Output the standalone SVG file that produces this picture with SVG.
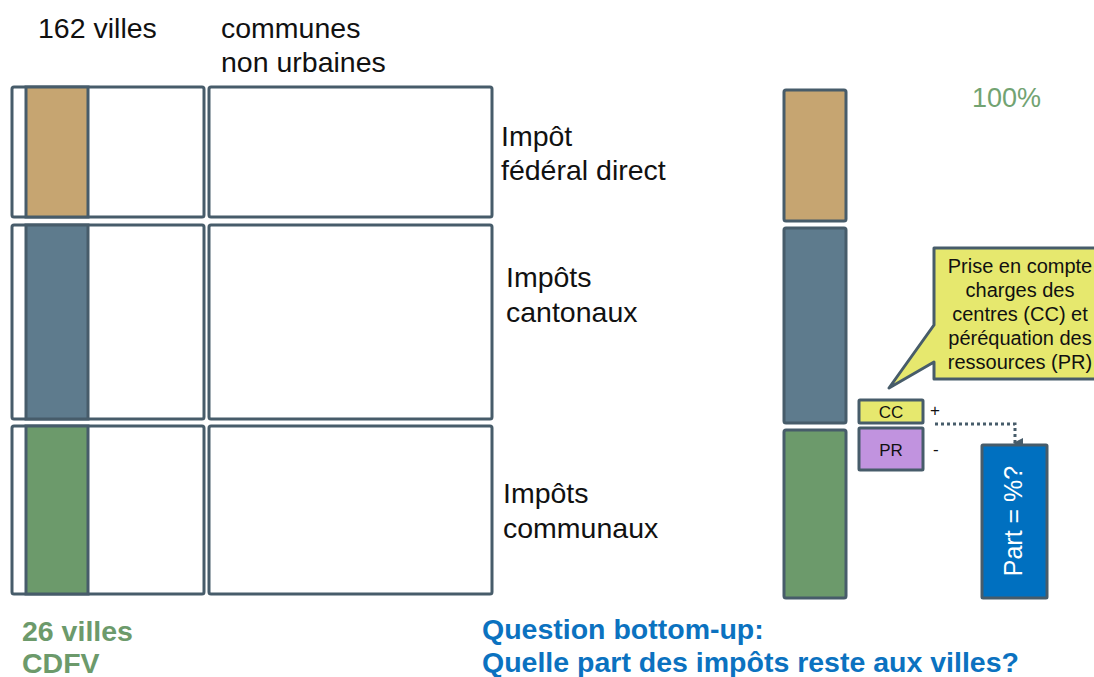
<svg xmlns="http://www.w3.org/2000/svg" width="1094" height="677" viewBox="0 0 1094 677">
<style>
.box{fill:#ffffff;stroke:#475c6a;stroke-width:3}
.fed{fill:#c6a571;stroke:#475c6a;stroke-width:3}
.can{fill:#5e7b8d;stroke:#475c6a;stroke-width:3}
.com{fill:#6c9a6b;stroke:#475c6a;stroke-width:3}
.t{font-family:"Liberation Sans",Arial,sans-serif;font-size:28.5px;fill:#111}
.g{font-family:"Liberation Sans",Arial,sans-serif;font-size:28.5px;font-weight:bold;fill:#6c9a6b}
.q{font-family:"Liberation Sans",Arial,sans-serif;font-size:28.5px;font-weight:bold;fill:#0b72c0}
.c{font-family:"Liberation Sans",Arial,sans-serif;font-size:20px;fill:#111;text-anchor:middle}
.s{font-family:"Liberation Sans",Arial,sans-serif;font-size:17px;fill:#111}
</style>
<defs>
<marker id="ah" markerWidth="10" markerHeight="10" refX="5" refY="8" orient="auto" markerUnits="userSpaceOnUse" viewBox="0 0 10 10">
<path d="M0,0 L10,0 L5,10 Z" fill="#475c6a"/>
</marker>
</defs>
<rect width="1094" height="677" fill="#ffffff"/>
<text class="t" x="38" y="38">162 villes</text>
<text class="t" x="221" y="38">communes</text>
<text class="t" x="221" y="72">non urbaines</text>
<g id="villes-federal">
<rect class="box" x="12" y="87" width="192" height="130" rx="2"/>
<rect class="fed" x="26" y="87" width="62" height="130"/>
</g>
<g id="villes-cantonal">
<rect class="box" x="12" y="225" width="192" height="194" rx="2"/>
<rect class="can" x="26" y="225" width="62" height="194"/>
</g>
<g id="villes-communal">
<rect class="box" x="12" y="426" width="192" height="168" rx="2"/>
<rect class="com" x="26" y="426" width="62" height="168"/>
</g>
<g id="communes-federal"><rect class="box" x="209" y="87" width="283" height="130" rx="2"/></g>
<g id="communes-cantonal"><rect class="box" x="209" y="225" width="283" height="194" rx="2"/></g>
<g id="communes-communal"><rect class="box" x="209" y="426" width="283" height="168" rx="2"/></g>
<g id="labels">
<text class="t" x="501" y="146">Impôt</text>
<text class="t" x="501" y="180">fédéral direct</text>
<text class="t" x="506" y="287">Impôts</text>
<text class="t" x="506" y="322">cantonaux</text>
<text class="t" x="503" y="503">Impôts</text>
<text class="t" x="503" y="538">communaux</text>
</g>
<g id="bar-federal"><rect class="fed" x="784" y="90" width="62" height="131" rx="2"/></g>
<g id="bar-cantonal"><rect class="can" x="784" y="228" width="62" height="195" rx="2"/></g>
<g id="bar-communal"><rect class="com" x="784" y="430" width="62" height="168" rx="2"/></g>
<text x="972" y="107" style="font-family:'Liberation Sans',Arial,sans-serif;font-size:27px;fill:#72a372">100%</text>
<g id="callout">
<path d="M934,248 H1102 V379 H934 V362 L889,388 L934,325 Z" fill="#e6e86e" stroke="#475c6a" stroke-width="3" stroke-linejoin="round"/>
<text class="c" x="1020" y="273">Prise en compte</text>
<text class="c" x="1020" y="297">charges des</text>
<text class="c" x="1020" y="321">centres (CC) et</text>
<text class="c" x="1020" y="345">péréquation des</text>
<text class="c" x="1020" y="369">ressources (PR)</text>
</g>
<g id="cc">
<rect x="859" y="400" width="64" height="23" fill="#e6e86e" stroke="#475c6a" stroke-width="3" rx="1"/>
<text class="s" x="891" y="418" text-anchor="middle">CC</text>
<text class="s" x="930" y="416">+</text>
</g>
<g id="pr">
<rect x="859" y="428" width="64" height="42" fill="#c193df" stroke="#475c6a" stroke-width="3" rx="1"/>
<text class="s" x="891" y="456" text-anchor="middle">PR</text>
<text class="s" x="933" y="455">-</text>
</g>
<g id="connectors">
<path d="M935,424 H1015 V443" fill="none" stroke="#475c6a" stroke-width="3" stroke-dasharray="3,3" marker-end="url(#ah)"/>
</g>
<g id="part">
<rect x="982" y="445" width="65" height="153" fill="#0070c0" stroke="#475c6a" stroke-width="3" rx="1"/>
<text x="0" y="0" transform="translate(1022,521) rotate(-90)" text-anchor="middle" style="font-family:'Liberation Sans',Arial,sans-serif;font-size:25px;fill:#ffffff">Part = %?</text>
</g>
<text class="g" x="22" y="641">26 villes</text>
<text class="g" x="22" y="673">CDFV</text>
<text class="q" x="482" y="639">Question bottom-up:</text>
<text class="q" x="482" y="672">Quelle part des impôts reste aux villes?</text>
</svg>
